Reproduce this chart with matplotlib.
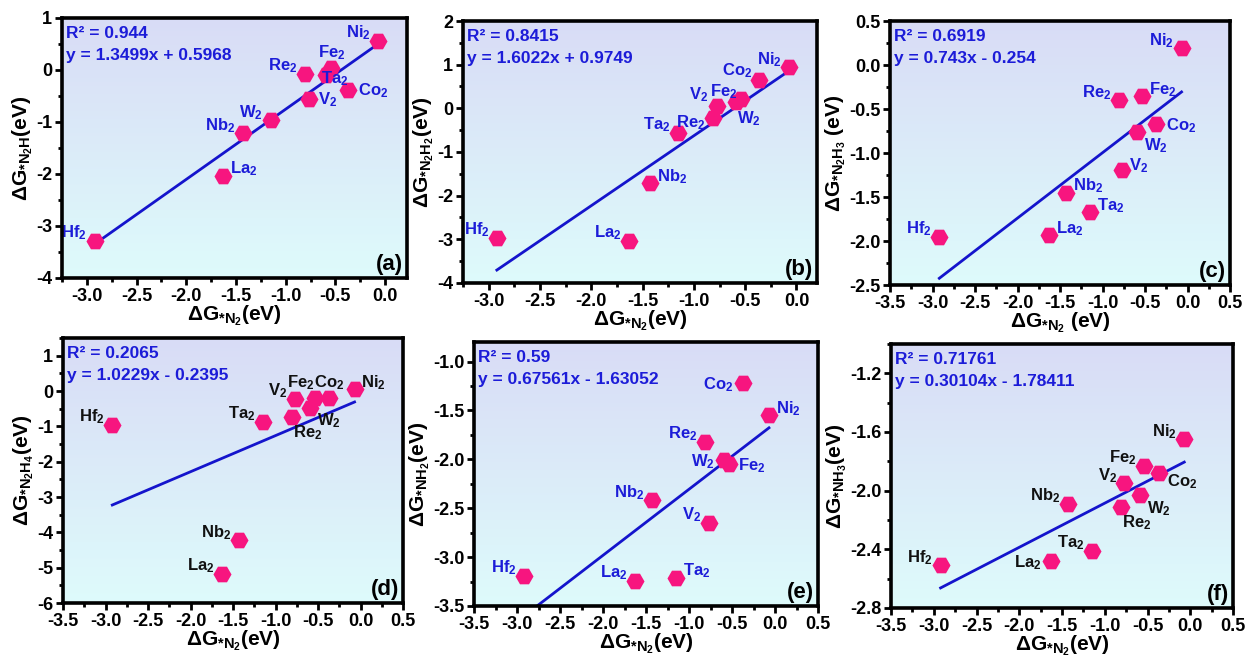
import numpy as np
import matplotlib
matplotlib.use("Agg")
import matplotlib.pyplot as plt
from matplotlib.ticker import MultipleLocator, FormatStrFormatter

plt.rcParams['font.family'] = ['Liberation Sans', 'DejaVu Sans']
plt.rcParams['font.weight'] = 'bold'
plt.rcParams['mathtext.fontset'] = 'custom'
plt.rcParams['mathtext.rm'] = 'Liberation Sans:bold'
plt.rcParams['mathtext.bf'] = 'Liberation Sans:bold'
plt.rcParams['mathtext.it'] = 'Liberation Sans:bold'
plt.rcParams['mathtext.default'] = 'bf'
plt.rcParams['axes.unicode_minus'] = False

# ---------------- data ----------------
elements = ["Hf", "La", "Nb", "Ta", "Re", "V", "W", "Fe", "Co", "Ni"]
dg_n2 = [-2.92, -1.63, -1.43, -1.15, -0.81, -0.77, -0.59, -0.54, -0.37, -0.07]

# panel (a) labels W and Ta swapped as in the original figure
labels_a = ["Hf", "La", "Nb", "W", "Re", "V", "Ta", "Fe", "Co", "Ni"]

dg_n2h = [-3.29, -2.03, -1.22, -0.97, -0.07, -0.55, -0.09, 0.04, -0.38, 0.56]
dg_n2h2 = [-2.97, -3.03, -1.71, -0.56, -0.23, 0.06, 0.14, 0.22, 0.64, 0.94]
dg_n2h3 = [-1.95, -1.93, -1.45, -1.67, -0.40, -1.19, -0.76, -0.35, -0.67, 0.19]
dg_n2h4 = [-0.95, -5.18, -4.23, -0.87, -0.73, -0.22, -0.47, -0.19, -0.19, 0.05]
dg_nh2 = [-3.19, -3.24, -2.42, -3.21, -1.82, -2.65, -2.01, -2.05, -1.22, -1.55]
dg_nh3 = [-2.51, -2.48, -2.09, -2.41, -2.11, -1.95, -2.03, -1.83, -1.88, -1.65]

fit_r2 = ["0.944", "0.8415", "0.6919", "0.2065", "0.59", "0.71761"]
fit_slope = [1.3499, 1.6022, 0.743, 1.0229, 0.67561, 0.30104]
fit_intercept = [0.5968, 0.9749, -0.254, -0.2395, -1.63052, -1.78411]
fit_eq = ["y = 1.3499x + 0.5968", "y = 1.6022x + 0.9749", "y = 0.743x - 0.254",
          "y = 1.0229x - 0.2395", "y = 0.67561x - 1.63052", "y = 0.30104x - 1.78411"]

panel_letters = ["(a)", "(b)", "(c)", "(d)", "(e)", "(f)"]
ylabels = [r"ΔG$_{{*}N_2H}$(eV)", r"ΔG$_{{*}N_2H_2}$(eV)", r"ΔG$_{{*}N_2H_3}$ (eV)",
           r"ΔG$_{{*}N_2H_4}$(eV)", r"ΔG$_{{*}NH_2}$(eV)", r"ΔG$_{{*}NH_3}$(eV)"]
xlabels = [r"ΔG$_{{*}N_2}$(eV)", r"ΔG$_{{*}N_2}$(eV)", r"ΔG$_{{*}N_2}$ (eV)",
           r"ΔG$_{{*}N_2}$(eV)", r"ΔG$_{{*}N_2}$(eV)", r"ΔG$_{{*}N_2}$(eV)"]

# ---------------- layout / style ----------------
W, H = 1247, 657
boxes_px = [(62, 407, 18, 278), (463, 817, 21, 283), (890, 1230, 21, 285),
            (63, 403, 338, 603), (474, 818, 342, 606), (891, 1233, 344, 608)]
xlims = [(-3.25, 0.22), (-3.25, 0.2), (-3.5, 0.5), (-3.5, 0.5), (-3.5, 0.5), (-3.5, 0.5)]
xmajor = [0.5] * 6
ylims = [(-4, 1), (-4, 2), (-2.5, 0.5), (-6, 1.5), (-3.5, -0.8), (-2.8, -1.0)]
ymajor = [1, 1, 0.5, 1, 0.5, 0.4]
yfmt = ["%d", "%d", "%.1f", "%d", "%.1f", "%.1f"]
label_colors = ["#1c1cd8", "#1c1cd8", "#1c1cd8", "#111111", "#1c1cd8", "#111111"]

placements = [
    ['ul', 'ur', 'ul', 'ul', 'ul', 'r', 'c', 'u', 'r', 'ul'],
    ['ul', 'ul', 'ur', 'ul', 'l2', 'ul2', 'lr', 'ul3', 'ul4', 'ul'],
    ['ul', 'ur', 'ur', 'ur', 'ul', 'ru', 'lr2', 'ur', 'r', 'ul'],
    ['ul', 'ul', 'ul', 'ul', 'lr', 'ul', 'lr2', 'uul', 'u', 'ur'],
    ['ul', 'ul', 'ul', 'ur', 'ul', 'ul', 'l', 'r', 'l', 'ur'],
    ['ul', 'l', 'ul', 'ul', 'lr', 'ul', 'lr2', 'ul', 'rl', 'ul'],
]
place_map = {
    'ul': ((-5.5, -1), 'right', 'bottom'),
    'ul2': ((-6.5, 1.5), 'right', 'bottom'),
    'ul3': ((-2.5, -1.5), 'right', 'bottom'),
    'ul4': ((-4.5, 0.5), 'right', 'bottom'),
    'uul': ((0, 4), 'right', 'bottom'),
    'ur': ((5, -2), 'left', 'bottom'),
    'r': ((7, -1), 'left', 'center'),
    'ru': ((5, 3), 'left', 'center'),
    'rl': ((6, -6), 'left', 'center'),
    'l': ((-7, -1), 'right', 'center'),
    'l2': ((-6, -3), 'right', 'center'),
    'lr': ((1, -5), 'left', 'top'),
    'lr2': ((5, -3), 'left', 'top'),
    'u': ((0, 4), 'center', 'bottom'),
    'c': ((6, -3), 'center', 'center'),
}

marker_color = "#f7157f"
line_color = "#1414cc"
text_blue = "#1c1cd8"

all_y = [dg_n2h, dg_n2h2, dg_n2h3, dg_n2h4, dg_nh2, dg_nh3]
all_labels = [labels_a, elements, elements, elements, elements, elements]

fig = plt.figure(figsize=(W / 100, H / 100), dpi=100)

grad = np.linspace(0, 1, 256).reshape(-1, 1)
top_c = np.array([0.850, 0.862, 0.965])
bot_c = np.array([0.870, 0.985, 0.985])
grad_img = (top_c[None, None, :] * grad[:, :, None] + bot_c[None, None, :] * (1 - grad[:, :, None]))

for i in range(6):
    l, r, t, b = boxes_px[i]
    ax = fig.add_axes([l / W, 1 - b / H, (r - l) / W, (b - t) / H])
    ax.imshow(grad_img, extent=[0, 1, 0, 1], transform=ax.transAxes,
              aspect='auto', origin='lower', zorder=0)
    xs = np.array(dg_n2)
    ys = np.array(all_y[i])
    xfit = np.array([xs.min(), xs.max()])
    ax.plot(xfit, fit_slope[i] * xfit + fit_intercept[i], color=line_color, lw=2.0, zorder=2)
    ax.plot(xs, ys, linestyle='none', marker='H', markersize=13, color=marker_color,
            markeredgewidth=0, zorder=3)
    for xv, yv, name, code in zip(xs, ys, all_labels[i], placements[i]):
        off, ha, va = place_map[code]
        ax.annotate(name + r"$_2$", (xv, yv), xytext=off, textcoords='offset points',
                    ha=ha, va=va, fontsize=12, fontweight='bold',
                    color=label_colors[i], zorder=4)
    ax.annotate("R² = " + fit_r2[i], (0, 1), xycoords='axes fraction', xytext=(3, -11),
                textcoords='offset points', ha='left', va='center', fontsize=12.5,
                fontweight='bold', color=text_blue, zorder=5)
    ax.annotate(fit_eq[i], (0, 1), xycoords='axes fraction', xytext=(3, -27),
                textcoords='offset points', ha='left', va='center', fontsize=12.5,
                fontweight='bold', color=text_blue, zorder=5)
    ax.annotate(panel_letters[i], (1, 0), xycoords='axes fraction', xytext=(-3, 2),
                textcoords='offset points', ha='right', va='bottom', fontsize=16,
                fontweight='bold', color='black', zorder=5)

    ax.set_xlim(*xlims[i])
    ax.set_ylim(*ylims[i])
    ax.xaxis.set_major_locator(MultipleLocator(xmajor[i]))
    ax.xaxis.set_minor_locator(MultipleLocator(xmajor[i] / 2))
    ax.yaxis.set_major_locator(MultipleLocator(ymajor[i]))
    ax.yaxis.set_minor_locator(MultipleLocator(ymajor[i] / 2))
    ax.xaxis.set_major_formatter(FormatStrFormatter("%.1f"))
    ax.yaxis.set_major_formatter(FormatStrFormatter(yfmt[i]))
    for s in ax.spines.values():
        s.set_linewidth(2.6)
        s.set_zorder(6)
    ax.tick_params(which='major', direction='out', length=5, width=2, labelsize=13,
                   pad=2, top=False, right=False)
    ax.tick_params(which='minor', direction='out', length=3, width=2,
                   top=False, right=False)
    for lab in ax.get_xticklabels() + ax.get_yticklabels():
        lab.set_fontweight('bold')
    ax.set_xlabel(xlabels[i], fontsize=15, fontweight='bold', labelpad=-1)
    ax.set_ylabel(ylabels[i], fontsize=15, fontweight='bold', labelpad=1)

fig.savefig("out.png", dpi=100)
